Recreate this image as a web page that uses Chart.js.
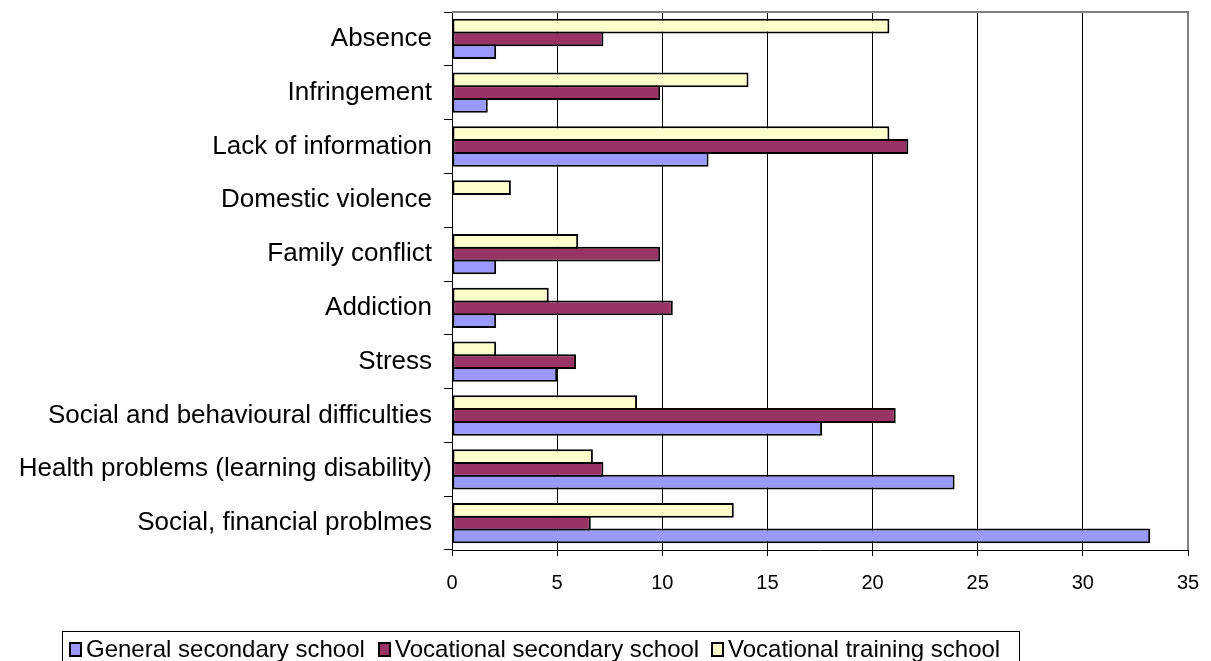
<!DOCTYPE html>
<html>
<head>
<meta charset="utf-8">
<script src="https://cdn.jsdelivr.net/npm/chart.js@4"></script>
<style>
  html, body { margin: 0; padding: 0; background: #fff; overflow: hidden; }
  #wrap { position: relative; width: 1211px; height: 661px; }
  canvas { position: absolute; left: 0; top: 0; }
  #legend { position: absolute; left: 62px; top: 631px; width: 958px; height: 40px;
    border: 1px solid #000; box-sizing: border-box; font-family: "Liberation Sans", Arial, sans-serif; font-size: 24px; color: #000; }
  .txt { position: absolute; white-space: nowrap; line-height: 28px; }
  .sw { position: absolute; width: 9px; height: 11px; border: 2px solid #000; }
</style>
</head>
<body>
<div id="wrap">
  <canvas id="c" width="1211" height="661"></canvas>
  <div id="legend"></div>
</div>
<script>
const categories = [
  "Absence",
  "Infringement",
  "Lack of information",
  "Domestic violence",
  "Family conflict",
  "Addiction",
  "Stress",
  "Social and behavioural difficulties",
  "Health problems (learning disability)",
  "Social, financial problmes"
];
const seriesNames = ["General secondary school", "Vocational secondary school", "Vocational training school"];
const generalSecondary = [2.1, 1.7, 12.2, 0, 2.1, 2.1, 5.0, 17.6, 23.9, 33.2];
const vocationalSecondary = [7.2, 9.9, 21.7, 0, 9.9, 10.5, 5.9, 21.1, 7.2, 6.6];
const vocationalTraining = [20.8, 14.1, 20.8, 2.8, 6.0, 4.6, 2.1, 8.8, 6.7, 13.4];
const xTicks = [0, 5, 10, 15, 20, 25, 30, 35];
const colors = ["#9999FF", "#993366", "#FFFFCC"];

const FONT = '"Liberation Sans", Arial, sans-serif';

const frame = {
  id: 'frame',
  afterDatasetsDraw(chart) {
    const a = chart.chartArea, c = chart.ctx;
    c.save();
    c.strokeStyle = '#808080';
    c.lineWidth = 2;
    c.beginPath();
    c.moveTo(a.left, a.top);
    c.lineTo(a.right, a.top);
    c.lineTo(a.right, a.bottom);
    c.stroke();
    c.restore();
  }
};

function ds(label, data, color) {
  return {
    label, data,
    backgroundColor: color,
    borderColor: '#000',
    borderWidth: 2,
    borderSkipped: false,
    barPercentage: 1.157,
    categoryPercentage: 0.712
  };
}

new Chart(document.getElementById('c'), {
  type: 'bar',
  data: {
    labels: categories,
    datasets: [
      ds(seriesNames[2], vocationalTraining, colors[2]),
      ds(seriesNames[1], vocationalSecondary, colors[1]),
      ds(seriesNames[0], generalSecondary, colors[0])
    ]
  },
  options: {
    indexAxis: 'y',
    responsive: false,
    animation: false,
    devicePixelRatio: 1,
    layout: { padding: { top: 12, right: 23, left: 0, bottom: 0 } },
    plugins: { legend: { display: false }, tooltip: { enabled: false } },
    scales: {
      x: {
        min: 0, max: 35,
        afterBuildTicks(scale) { scale.ticks = xTicks.map(v => ({ value: v })); },
        afterFit(scale) { scale.height = 111; scale.paddingLeft = 0; scale.paddingRight = 0; },
        ticks: { color: '#000', font: { family: FONT, size: 20 }, padding: 15 },
        grid: { color: '#000', lineWidth: 1, tickLength: 6, drawTicks: true },
        border: { color: '#000', width: 1 }
      },
      y: {
        afterFit(scale) { scale.width = 452; scale.paddingTop = 0; scale.paddingBottom = 0; },
        ticks: { color: '#000', font: { family: FONT, size: 26 }, padding: 12 },
        grid: { drawOnChartArea: false, color: '#000', tickLength: 8, offset: true },
        border: { color: '#000', width: 1 }
      }
    }
  },
  plugins: [frame]
});

const legend = document.getElementById('legend');
const order = [0, 1, 2];
const swLeft = [6, 315, 648];
const txtLeft = [23, 332, 665];
order.forEach((i, k) => {
  const s = document.createElement('div');
  s.className = 'sw';
  s.style.left = swLeft[k] + 'px';
  s.style.top = '10px';
  s.style.background = colors[i];
  legend.appendChild(s);
  const t = document.createElement('div');
  t.className = 'txt';
  t.style.left = txtLeft[k] + 'px';
  t.style.top = '3px';
  t.textContent = seriesNames[i];
  legend.appendChild(t);
});
</script>
</body>
</html>
